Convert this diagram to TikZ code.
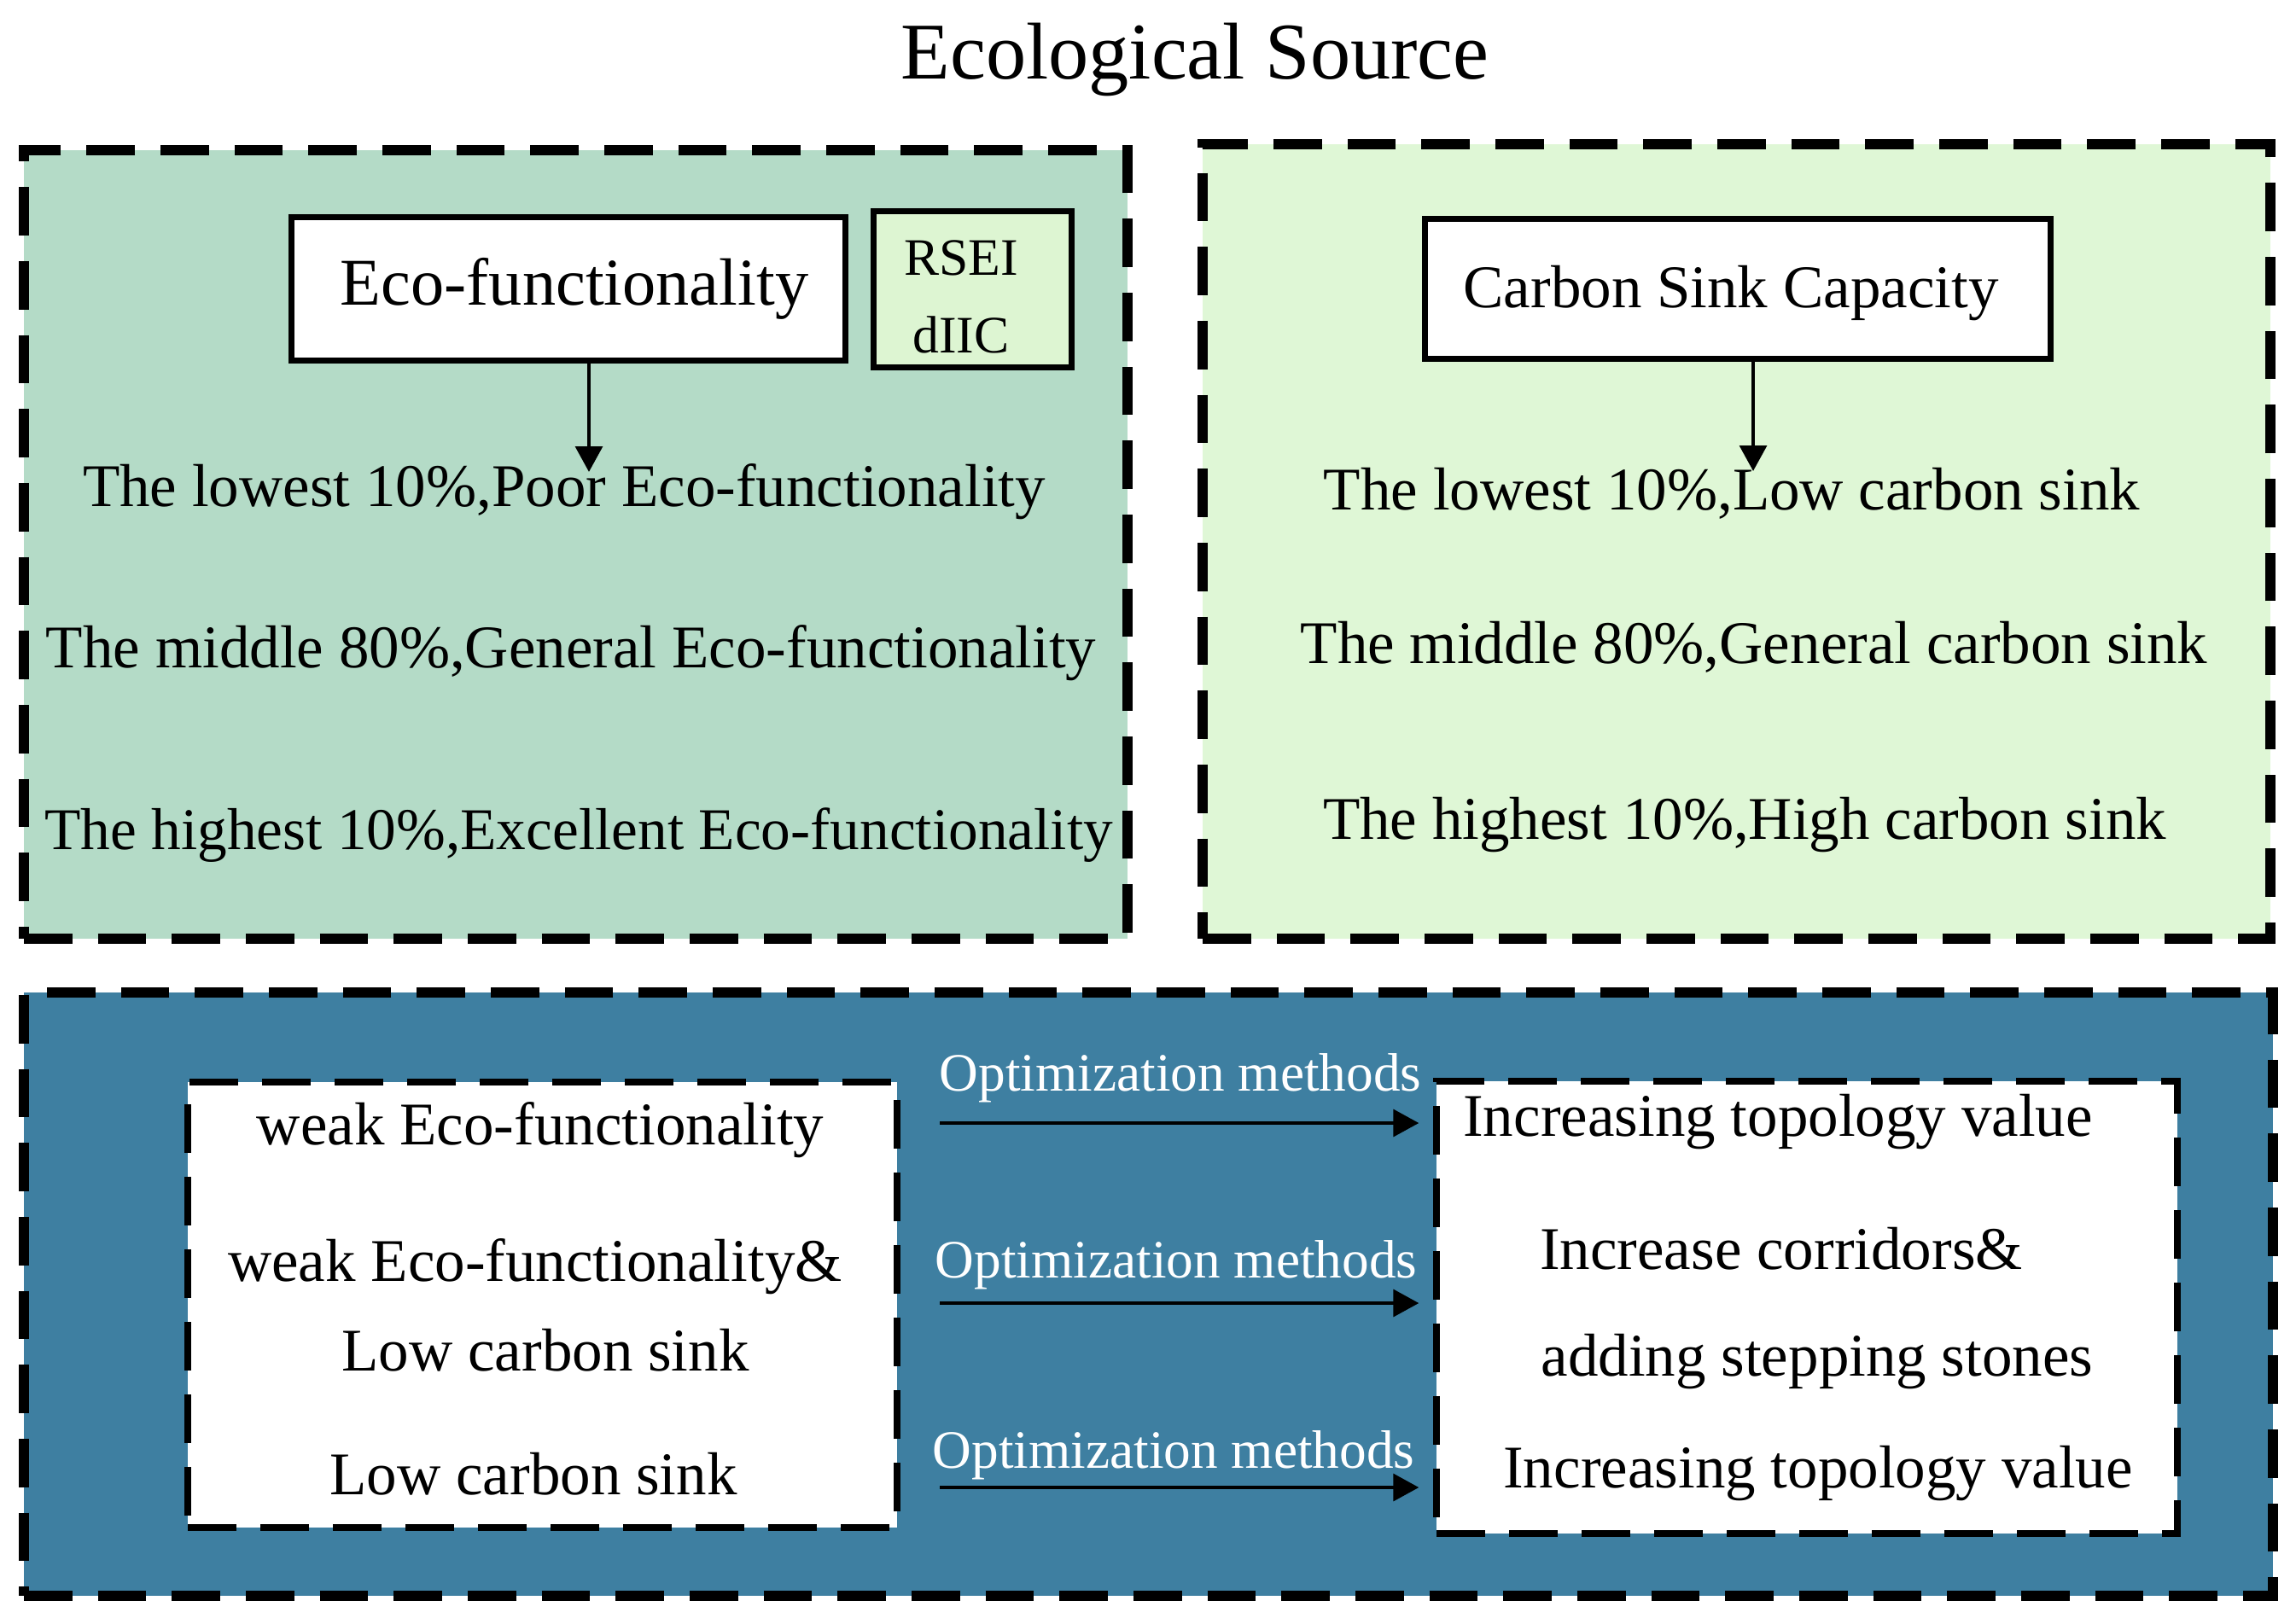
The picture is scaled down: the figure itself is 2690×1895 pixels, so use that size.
\documentclass[tikz,border=0pt]{standalone}
\usepackage{fontspec}
\setmainfont{Liberation Serif}
\usetikzlibrary{arrows.meta,fit,calc}
\definecolor{mint}{RGB}{180,219,199}
\definecolor{pale}{RGB}{223,247,214}
\definecolor{steel}{RGB}{62,127,161}
\definecolor{rseifill}{RGB}{221,245,210}
\begin{document}
\begin{tikzpicture}[x=0.3pt,y=-0.3pt,
 panel/.style={draw=black, line width=3.6pt, dash pattern=on 17pt off 9pt, inner sep=0pt},
 innerbox/.style={draw=black, fill=white, line width=2.2pt, dash pattern=on 17pt off 8.5pt, inner sep=0pt},
 solidbox/.style={draw=black, line width=2.1pt, inner sep=0pt},
 txt/.style={font=\fontsize{21.3}{25}\selectfont, inner sep=0pt, text height=0.7em, text depth=0.2em},
 opt/.style={font=\fontsize{19}{23}\selectfont, text=white, inner sep=0pt, text height=0.7em, text depth=0.2em},
 arr/.style={line width=1.3pt, -{Triangle[length=9pt,width=9.5pt]}}
]
\useasboundingbox (0,0) rectangle (2690,1895);
\fill[white] (0,0) rectangle (2690,1895);

\node[font=\fontsize{28.3}{34}\selectfont, inner sep=0pt] (title) at (1400,70) {Ecological Source};

% panels
\node[panel, fill=mint, fit={(28,176) (1321,1100)}] (tl) {};
\node[panel, fill=pale, fit={(1409,169) (2660,1100)}] (tr) {};
\node[panel, fill=steel, fit={(28,1163) (2663,1870)}] (bot) {};

% top-left content
\node[solidbox, fill=white, fit={(341,255) (990,422)}] (eco) {};
\node[inner sep=0pt, font=\fontsize{23.5}{28}\selectfont] (ecot) at (673,338) {Eco-functionality};
\node[solidbox, fill=rseifill, fit={(1023,248) (1255,430)}] (rsei) {};
\node[inner sep=0pt, font=\fontsize{18.5}{22}\selectfont] (rseit) at (1126,302) {RSEI};
\node[inner sep=0pt, font=\fontsize{18.5}{22}\selectfont] (diict) at (1126,392) {dIIC};

\node[txt] (e1) at (661,585) {The lowest 10\%,Poor Eco-functionality};
\node[txt] (e2) at (669,774) {The middle 80\%,General Eco-functionality};
\node[txt, font=\fontsize{20.8}{25}\selectfont] (e3) at (678,987) {The highest 10\%,Excellent Eco-functionality};
\coordinate (t1) at (690,553);
\draw[arr] (eco.south -| t1) -- (t1);

% top-right content
\node[solidbox, fill=white, fit={(1669,257) (2402,420)}] (csc) {};
\node[txt] (csct) at (2028,352) {Carbon Sink Capacity};
\node[txt] (c1) at (2029,589) {The lowest 10\%,Low carbon sink};
\node[txt] (c2) at (2055,769) {The middle 80\%,General carbon sink};
\node[txt] (c3) at (2044,975) {The highest 10\%,High carbon sink};
\coordinate (t2) at (2054,552);
\draw[arr] (csc.south -| t2) -- (t2);

% bottom content
\node[innerbox, fit={(220,1268) (1051,1790)}] (lb) {};
\node[innerbox, fit={(1683,1267) (2551,1797)}] (rb) {};

\node[txt] (l1) at (633,1333) {weak Eco-functionality};
\node[txt] (l2) at (627,1493) {weak Eco-functionality\&};
\node[txt] (l3) at (639,1598) {Low carbon sink};
\node[txt] (l4) at (625,1743) {Low carbon sink};

\node[txt] (r1) at (2083,1323) {Increasing topology value};
\node[txt] (r2) at (2087,1479) {Increase corridors\&};
\node[txt] (r3) at (2129,1604) {adding stepping stones};
\node[txt] (r4) at (2130,1735) {Increasing topology value};

\node[opt] (o1) at (1383,1270) {Optimization methods};
\node[opt] (o2) at (1378,1489) {Optimization methods};
\node[opt] (o3) at (1375,1712) {Optimization methods};

\coordinate (a1) at (1101,1316);
\coordinate (a2) at (1101,1527);
\coordinate (a3) at (1101,1743);
\draw[arr] (a1) -- ($(a1 -| rb.west)+(-17,0)$);
\draw[arr] (a2) -- ($(a2 -| rb.west)+(-17,0)$);
\draw[arr] (a3) -- ($(a3 -| rb.west)+(-17,0)$);
\end{tikzpicture}
\end{document}
